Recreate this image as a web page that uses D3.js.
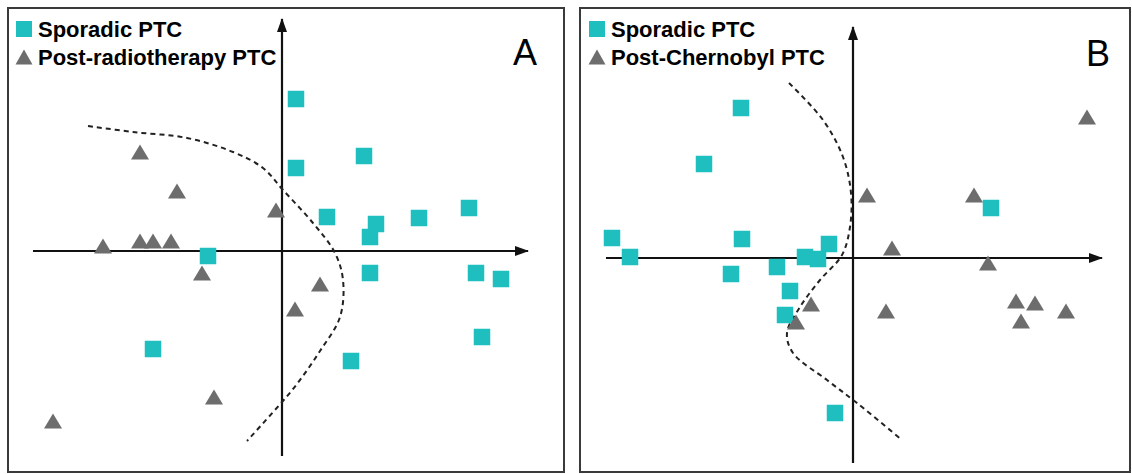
<!DOCTYPE html>
<html>
<head>
<meta charset="utf-8">
<script src="https://cdn.jsdelivr.net/npm/d3@7"></script>
<style>
  html, body { margin: 0; padding: 0; background: #fff; }
  svg { display: block; }
  text { font-family: "Liberation Sans", Arial, sans-serif; }
</style>
</head>
<body>
<svg id="chart" width="1132" height="474"></svg>
<script>
// ---- Panel A: sporadic vs post-radiotherapy PTC (PC1 / PC2 scores) ----
const sporadicA_x = [0.56, 0.56, 3.28, 1.8, 3.76, 3.52, 5.48, 7.48, -2.96, 3.52, 7.76, 8.76, 8.0, -5.16, 2.76];
const sporadicA_y = [6.08, 3.32, 3.8, 1.36, 1.08, 0.56, 1.32, 1.72, -0.2, -0.88, -0.88, -1.12, -3.44, -3.92, -4.4];
const radioA_x = [-5.68, -4.2, -0.24, -7.16, -5.68, -5.16, -4.44, -3.2, 1.52, 0.52, -2.72, -9.16];
const radioA_y = [3.96, 2.4, 1.64, 0.2, 0.4, 0.4, 0.4, -0.88, -1.32, -2.32, -5.84, -6.8];
const boundaryA_x = [-7.76, -5.96, -3.8, -1.96, -0.76, 0.04, 1.24, 2.12, 2.44, 2.32, 1.52, 0.6, 0.0, -1.4];
const boundaryA_y = [5.0, 4.76, 4.52, 3.96, 3.32, 2.44, 1.12, -0.08, -1.16, -2.64, -4.0, -5.32, -6.04, -7.6];
const axisA_x = [-9.96, 9.84];
const axisA_y = [-8.2, 9.28];

// ---- Panel B: sporadic vs post-Chernobyl PTC ----
const sporadicB_x = [-4.48, -5.96, 5.52, -9.64, -4.44, -0.96, -8.92, -1.92, -1.4, -3.04, -4.88, -2.52, -2.72, -0.72];
const sporadicB_y = [6.0, 3.76, 2.0, 0.8, 0.76, 0.56, 0.04, 0.04, -0.04, -0.36, -0.64, -1.32, -2.28, -6.2];
const chernobylB_x = [9.36, 0.56, 4.84, 1.56, 5.4, 6.52, 7.28, 6.72, 8.52, 1.32, -1.68, -2.28];
const chernobylB_y = [5.64, 2.52, 2.52, 0.4, -0.2, -1.72, -1.8, -2.52, -2.12, -2.12, -1.84, -2.56];
const boundaryB_x = [-2.56, -1.2, -0.4, -0.08, -0.12, -0.44, -1.32, -2.12, -2.64, -2.4, -1.04, 0.16, 1.96];
const boundaryB_y = [7.0, 5.52, 4.04, 2.6, 1.24, 0.12, -0.88, -1.96, -3.0, -3.8, -4.88, -5.8, -7.28];
const axisB_x = [-9.88, 9.96];
const axisB_y = [-8.2, 9.24];

// Labels
const panelLetters = ["A", "B"];
const legendSporadic = "Sporadic PTC";
const legendOthers = ["Post-radiotherapy PTC", "Post-Chernobyl PTC"];

const TEAL = "#1fbfc0";
const GREY = "#6d6d6d";
const INK = "#111";

const svg = d3.select("#chart");

// Arrowhead marker for the axes
const defs = svg.append("defs");
defs.append("marker")
  .attr("id", "arrow")
  .attr("viewBox", "0 0 14 10")
  .attr("refX", 13).attr("refY", 5)
  .attr("markerWidth", 14).attr("markerHeight", 10)
  .attr("markerUnits", "userSpaceOnUse")
  .attr("orient", "auto")
  .append("path")
  .attr("d", "M0,0 L14,5 L0,10 Z")
  .attr("fill", INK);

// triangle path centred on its bounding box
function trianglePath(cx, cy, w, h) {
  const p = d3.path();
  p.moveTo(cx, cy - h / 2);
  p.lineTo(cx + w / 2, cy + h / 2);
  p.lineTo(cx - w / 2, cy + h / 2);
  p.closePath();
  return p.toString();
}

function drawPanel(cfg) {
  const g = svg.append("g");

  // frame
  g.append("rect")
    .attr("x", cfg.frame[0]).attr("y", cfg.frame[1])
    .attr("width", cfg.frame[2]).attr("height", cfg.frame[3])
    .attr("fill", "#fff").attr("stroke", "#3a3a3a").attr("stroke-width", 2);

  const x = d3.scaleLinear().domain(cfg.axisX).range(cfg.rangeX);
  const y = d3.scaleLinear().domain(cfg.axisY).range(cfg.rangeY);

  // axes through the origin, arrow at positive ends
  g.append("line")
    .attr("x1", x(cfg.axisX[0])).attr("x2", x(cfg.axisX[1]))
    .attr("y1", y(0)).attr("y2", y(0))
    .attr("stroke", INK).attr("stroke-width", 2.2)
    .attr("marker-end", "url(#arrow)");
  g.append("line")
    .attr("x1", x(0)).attr("x2", x(0))
    .attr("y1", y(cfg.axisY[0])).attr("y2", y(cfg.axisY[1]))
    .attr("stroke", INK).attr("stroke-width", 2.2)
    .attr("marker-end", "url(#arrow)");

  // dashed separating boundary
  const bpts = cfg.bx.map((v, i) => [v, cfg.by[i]]);
  g.append("path")
    .datum(bpts)
    .attr("d", d3.line().x(d => x(d[0])).y(d => y(d[1])).curve(d3.curveCatmullRom.alpha(0.5)))
    .attr("fill", "none").attr("stroke", "#222")
    .attr("stroke-width", 2).attr("stroke-dasharray", "5,4");

  // sporadic PTC squares
  const sq = cfg.sx.map((v, i) => [v, cfg.sy[i]]);
  const S = 16.5;
  g.selectAll("rect.sq").data(sq).join("rect")
    .attr("class", "sq")
    .attr("x", d => x(d[0]) - S / 2).attr("y", d => y(d[1]) - S / 2)
    .attr("width", S).attr("height", S)
    .attr("fill", TEAL);

  // comparison group triangles
  const tr = cfg.tx.map((v, i) => [v, cfg.ty[i]]);
  g.selectAll("path.tri").data(tr).join("path")
    .attr("class", "tri")
    .attr("d", d => trianglePath(x(d[0]), y(d[1]), 18, 15))
    .attr("fill", GREY);

  // legend
  const lx = cfg.legend[0], ly = cfg.legend[1];
  g.append("rect")
    .attr("x", lx).attr("y", ly)
    .attr("width", 16).attr("height", 16)
    .attr("fill", TEAL);
  g.append("path")
    .attr("d", trianglePath(lx + 8, ly + 36, 17, 15))
    .attr("fill", GREY);
  g.append("text")
    .attr("x", lx + 22).attr("y", ly + 16)
    .attr("font-size", 22).attr("font-weight", "bold").attr("fill", "#000")
    .text(legendSporadic);
  g.append("text")
    .attr("x", lx + 22).attr("y", ly + 44)
    .attr("font-size", 22).attr("font-weight", "bold").attr("fill", "#000")
    .text(cfg.otherLabel);

  // panel letter
  g.append("text")
    .attr("x", cfg.letter[0]).attr("y", cfg.letter[1])
    .attr("font-size", 36).attr("fill", "#000")
    .text(cfg.letterText);
}

drawPanel({
  frame: [8, 8, 556, 464],
  axisX: axisA_x, axisY: axisA_y,
  rangeX: [33, 528], rangeY: [456, 19],
  sx: sporadicA_x, sy: sporadicA_y,
  tx: radioA_x, ty: radioA_y,
  bx: boundaryA_x, by: boundaryA_y,
  legend: [16, 21],
  otherLabel: legendOthers[0],
  letter: [513, 65], letterText: panelLetters[0]
});

drawPanel({
  frame: [580, 8, 550, 464],
  axisX: axisB_x, axisY: axisB_y,
  rangeX: [606, 1102], rangeY: [463, 27],
  sx: sporadicB_x, sy: sporadicB_y,
  tx: chernobylB_x, ty: chernobylB_y,
  bx: boundaryB_x, by: boundaryB_y,
  legend: [589, 21],
  otherLabel: legendOthers[1],
  letter: [1086, 66], letterText: panelLetters[1]
});
</script>
</body>
</html>
